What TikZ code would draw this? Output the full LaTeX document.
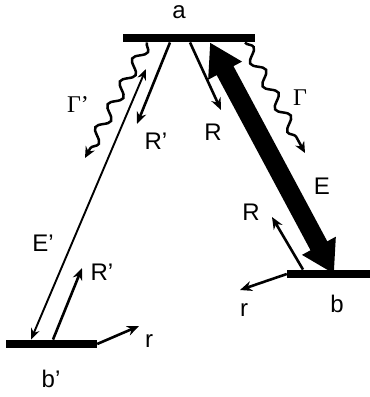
\documentclass[tikz,border=0pt]{standalone}
\usepackage{fontspec}
\setmainfont{Liberation Sans}
\newfontfamily\greekfont{Liberation Serif}
\usetikzlibrary{
arrows.meta,
positioning,
decorations.pathmorphing
}

\begin{document}
\begin{tikzpicture}[
x=1pt, y=-1pt,
level/.style={
rectangle,
fill=black,
inner sep=0pt,
minimum height=8.5pt
},
lbl/.style={inner sep=0pt, font=\fontsize{24}{28}\selectfont},
arrow/.style={-{Stealth[length=12pt,width=10pt]}, line width=2.6pt},
thinarrow/.style={{Stealth[length=11pt,width=9pt]}-{Stealth[length=11pt,width=9pt]}, line width=1.9pt},
wavy/.style={
-{Stealth[length=11pt,width=10pt]},
line width=2.5pt,
decorate,
decoration={snake, amplitude=5.5pt, segment length=26pt, post length=7pt}
},
bigarrow/.style={{Triangle[length=32pt,width=36pt]}-{Triangle[length=32pt,width=36pt]}, line width=19pt}
]
\useasboundingbox (0,0) rectangle (370,397);

% levels
\node[level, minimum width=132pt] (a) at (189,38) {};
\node[level, minimum width=91pt] (bp) at (51.5,344) {};
\node[level, minimum width=86pt] (b) at (330,274) {};

% free ends
\coordinate (gpend) at (85,158);
\coordinate (gend) at (305,153);
\coordinate (eptop) at (146,69);
\coordinate (rpdown) at (137,124);
\coordinate (rdown) at (221,110);
\coordinate (rpup) at (82,268);
\coordinate (rup) at (272,217);
\coordinate (rright) at (139,326);
\coordinate (rleft) at (240,290);

% transitions
\draw[wavy] ([xshift=-42pt]a.south) -- (gpend);
\draw[wavy] ([xshift=56pt]a.south) -- (gend);
\draw[thinarrow] ([xshift=-20.5pt]bp.north) -- (eptop);
\draw[arrow] ([xshift=-19pt]a.south) -- (rpdown);
\draw[arrow] ([xshift=1pt]a.south) -- (rdown);
\draw[bigarrow] ([xshift=21pt]a.south) -- ([xshift=4pt]b.center);
\draw[arrow] ([xshift=1.5pt]bp.north) -- (rpup);
\draw[arrow] (bp.east) -- (rright);
\draw[arrow] ([xshift=-27pt]b.north) -- (rup);
\draw[arrow] (b.west) -- (rleft);

% labels
\node[lbl] (la) at (179,12) {a};
\node[lbl] (lgp) at (78,105) {\greekfont Γ’};
\node[lbl] (lrp1) at (156,141) {R’};
\node[lbl] (lr1) at (213,132) {R};
\node[lbl] (lg) at (300,98) {\greekfont Γ};
\node[lbl] (le) at (322,186) {E};
\node[lbl] (lep) at (43,243) {E’};
\node[lbl] (lrp2) at (102,272) {R’};
\node[lbl] (lbp) at (51,379) {b’};
\node[lbl] (lr2) at (149,341) {r};
\node[lbl] (lr3) at (251,212) {R};
\node[lbl] (lr4) at (244,310) {r};
\node[lbl] (lb) at (337,304) {b};

\end{tikzpicture}
\end{document}
